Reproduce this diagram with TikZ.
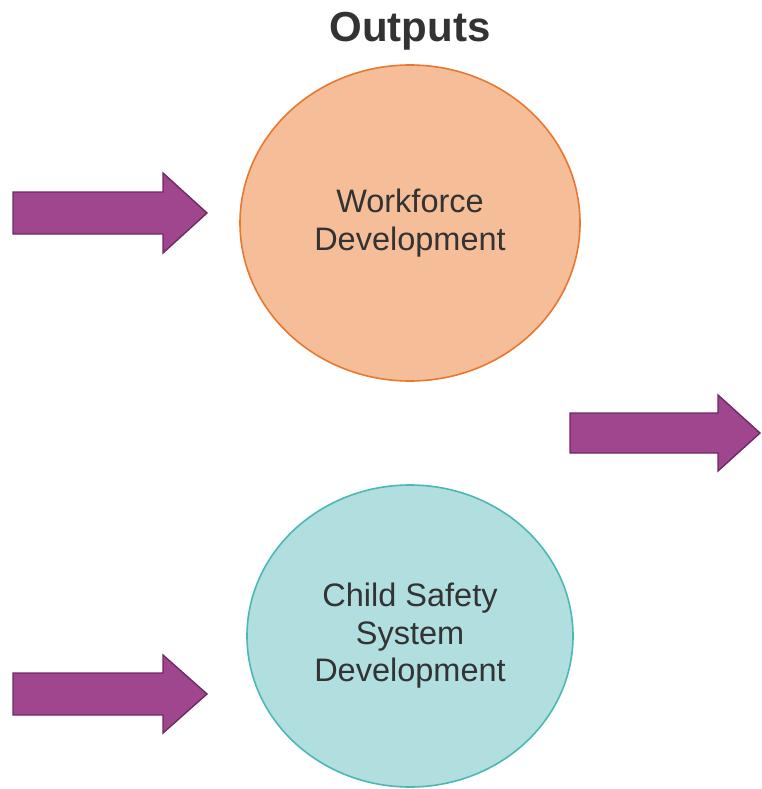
\documentclass[tikz,border=0pt]{standalone}
\usepackage{fontspec}
\setmainfont{Liberation Sans}
\usetikzlibrary{shapes.geometric}
\definecolor{arrowfill}{HTML}{A0468F}
\definecolor{arrowedge}{HTML}{6E2A63}
\definecolor{orfill}{HTML}{F5BE99}
\definecolor{oredge}{HTML}{E8782F}
\definecolor{tlfill}{HTML}{B1DEDF}
\definecolor{tledge}{HTML}{4CB8B3}
\definecolor{txt}{HTML}{333333}
\tikzset{
  bigarrow/.style={fill=arrowfill, draw=arrowedge, line width=1.4pt, line join=miter},
  bubble/.style={ellipse, inner sep=0pt, line width=1.6pt, align=center,
    font=\fontsize{32.5}{37.5}\selectfont, text=txt},
  titletext/.style={font=\fontsize{42}{48}\selectfont\bfseries, text=txt}
}
\begin{document}
\begin{tikzpicture}[x=1pt,y=-1pt]
\useasboundingbox (0,0) rectangle (761,789);
\node[titletext] (title) at (410,31) {Outputs};
\node[bubble, fill=orfill, draw=oredge, minimum width=340pt, minimum height=316pt] (wf) at (410,223) {Workforce\\Development};
\node[bubble, fill=tlfill, draw=tledge, minimum width=326pt, minimum height=302pt] (cs) at (410,636) {Child Safety\\System\\Development};
% arrow 1 (top left)
\coordinate (a1) at (13,213);
\draw[bigarrow] (a1) ++(0,-21) -- ++(150,0) -- ++(0,-19) -- ++(44,40) -- ++(-44,40) -- ++(0,-19) -- ++(-150,0) -- cycle;
% arrow 2 (right)
\coordinate (a2) at (570,433);
\draw[bigarrow] (a2) ++(0,-20) -- ++(148,0) -- ++(0,-18) -- ++(42,38) -- ++(-42,38) -- ++(0,-18) -- ++(-148,0) -- cycle;
% arrow 3 (bottom left)
\coordinate (a3) at (13,694);
\draw[bigarrow] (a3) ++(0,-21) -- ++(150,0) -- ++(0,-18) -- ++(44,39) -- ++(-44,39) -- ++(0,-18) -- ++(-150,0) -- cycle;
\end{tikzpicture}
\end{document}
